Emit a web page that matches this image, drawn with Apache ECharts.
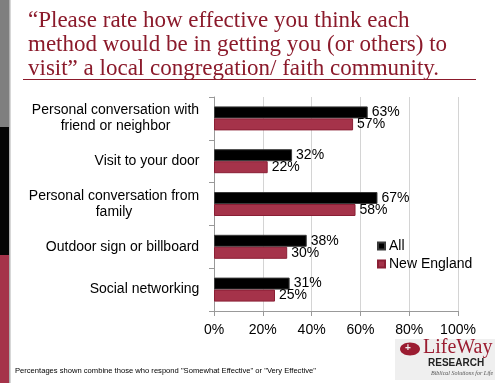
<!DOCTYPE html>
<html>
<head>
<meta charset="utf-8">
<script src="https://cdn.jsdelivr.net/npm/echarts@6/dist/echarts.min.js"></script>
<style>html,body{margin:0;padding:0;background:#fff}#c{width:500px;height:383px}</style>
</head>
<body>
<div id="c"></div>
<script>
var categories = [
  ["Personal conversation with", "friend or neighbor"],
  ["Visit to your door"],
  ["Personal conversation from", "family"],
  ["Outdoor sign or billboard"],
  ["Social networking"]
];
var seriesNames = ["All", "New England"];
var allValues = [63, 32, 67, 38, 31];
var newEnglandValues = [57, 22, 58, 30, 25];
var xTicks = [0, 20, 40, 60, 80, 100];

var titleLines = [
  "\u201cPlease rate how effective you think each",
  "method would be in getting you (or others) to",
  "visit\u201d a local congregation/ faith community."
];
var footnote = "Percentages shown combine those who respond \"Somewhat Effective\" or \"Very Effective\"";

var FONT = "Arial, 'Liberation Sans', sans-serif";
var SERIF = "'Times New Roman', 'Liberation Serif', serif";
var RED = "#A5334A";
var TITLE_RED = "#8B1A2B";

var cv = document.createElement('canvas').getContext('2d');
cv.font = "14px " + FONT;
var labelKeys = categories.map(function (c) { return c.join("\n"); });
var richMap = {};
categories.forEach(function (lines, i) {
  var w = Math.max.apply(null, lines.map(function (l) { return cv.measureText(l).width; }));
  richMap['c' + i] = { width: Math.ceil(w) + 1, align: 'center', fontSize: 14, fontFamily: FONT, color: '#000', lineHeight: 16 };
});

var chart = echarts.init(document.getElementById('c'), null, { renderer: 'canvas' });
var graphics = [
  { type: 'rect', shape: { x: 0, y: 0, width: 9, height: 127 }, style: { fill: '#7f7f7f' } },
  { type: 'rect', shape: { x: 0, y: 127, width: 9, height: 128 }, style: { fill: '#050505' } },
  { type: 'rect', shape: { x: 0, y: 255, width: 9, height: 128 }, style: { fill: RED } },
  { type: 'rect', shape: { x: 9, y: 0, width: 1.5, height: 383 }, style: { fill: '#b0b0b0' } },
  { type: 'line', shape: { x1: 23, y1: 79.5, x2: 476, y2: 79.5 }, style: { stroke: TITLE_RED, lineWidth: 1 } },
  { type: 'text', left: 15, top: 367, style: { text: footnote, font: "7.6px " + FONT, fill: '#000' } },
  { type: 'rect', shape: { x: 395, y: 339, width: 100, height: 41 }, style: { fill: '#efefef' } },
  { type: 'ellipse', shape: { cx: 410, cy: 349, rx: 10, ry: 6.5 }, style: { fill: '#9b1c31' } },
  { type: 'text', x: 405, y: 343, style: { text: "+", font: "bold 10px " + FONT, fill: '#efefef' } },
  { type: 'text', x: 423, y: 338, style: { text: "LifeWay", font: "20px " + SERIF, fill: '#9b1c31' } },
  { type: 'text', x: 428, y: 358, style: { text: "RESEARCH", font: "bold 10px " + FONT, fill: '#222' } },
  { type: 'text', x: 431, y: 370, style: { text: "Biblical Solutions for Life", font: "italic 6px " + SERIF, fill: '#555' } }
];
titleLines.forEach(function (t, i) {
  graphics.push({ type: 'text', x: 28, y: 9 + i * 24, style: { text: t, font: "23px " + SERIF, fill: TITLE_RED } });
});

chart.setOption({
  animation: false,
  backgroundColor: '#fff',
  grid: { left: 214, right: 42, top: 97, bottom: 72 },
  legend: {
    orient: 'vertical', left: 377, top: 239, padding: 0, itemGap: 4,
    itemWidth: 7, itemHeight: 7, icon: 'rect',
    textStyle: { fontSize: 14, fontFamily: FONT, color: '#000', padding: [0, 0, 0, -1] },
    data: seriesNames
  },
  xAxis: {
    type: 'value', min: 0, max: 100, interval: 20,
    axisLine: { show: true, lineStyle: { color: '#999' } },
    axisTick: { show: true, length: 5, lineStyle: { color: '#999' } },
    axisLabel: { formatter: '{value}%', fontSize: 14, fontFamily: FONT, color: '#000', margin: 12 },
    splitLine: { show: true, lineStyle: { color: '#d4d4d4' } }
  },
  yAxis: {
    type: 'category', inverse: true, data: labelKeys,
    axisLine: { show: true, lineStyle: { color: '#999' } },
    axisTick: { show: true, length: 5, lineStyle: { color: '#999' } },
    axisLabel: {
      margin: 14, align: 'right',
      formatter: function (v, idx) {
        var i = labelKeys.indexOf(v);
        return categories[i].map(function (l) { return '{c' + i + '|' + l + '}'; }).join('\n');
      },
      rich: richMap
    },
    splitLine: { show: false }
  },
  series: [
    {
      name: seriesNames[0], type: 'bar', data: allValues, barWidth: 12, barGap: '0%',
      itemStyle: { color: '#000', borderColor: '#3a3a3a', borderWidth: 1 },
      label: { show: true, position: 'right', distance: 4, formatter: '{c}%', fontSize: 14, fontFamily: FONT, color: '#000' }
    },
    {
      name: seriesNames[1], type: 'bar', data: newEnglandValues, barWidth: 12,
      itemStyle: { color: RED, borderColor: '#8a1f35', borderWidth: 1 },
      label: { show: true, position: 'right', distance: 4, formatter: '{c}%', fontSize: 14, fontFamily: FONT, color: '#000' }
    }
  ],
  graphic: graphics
});
</script>
</body>
</html>
